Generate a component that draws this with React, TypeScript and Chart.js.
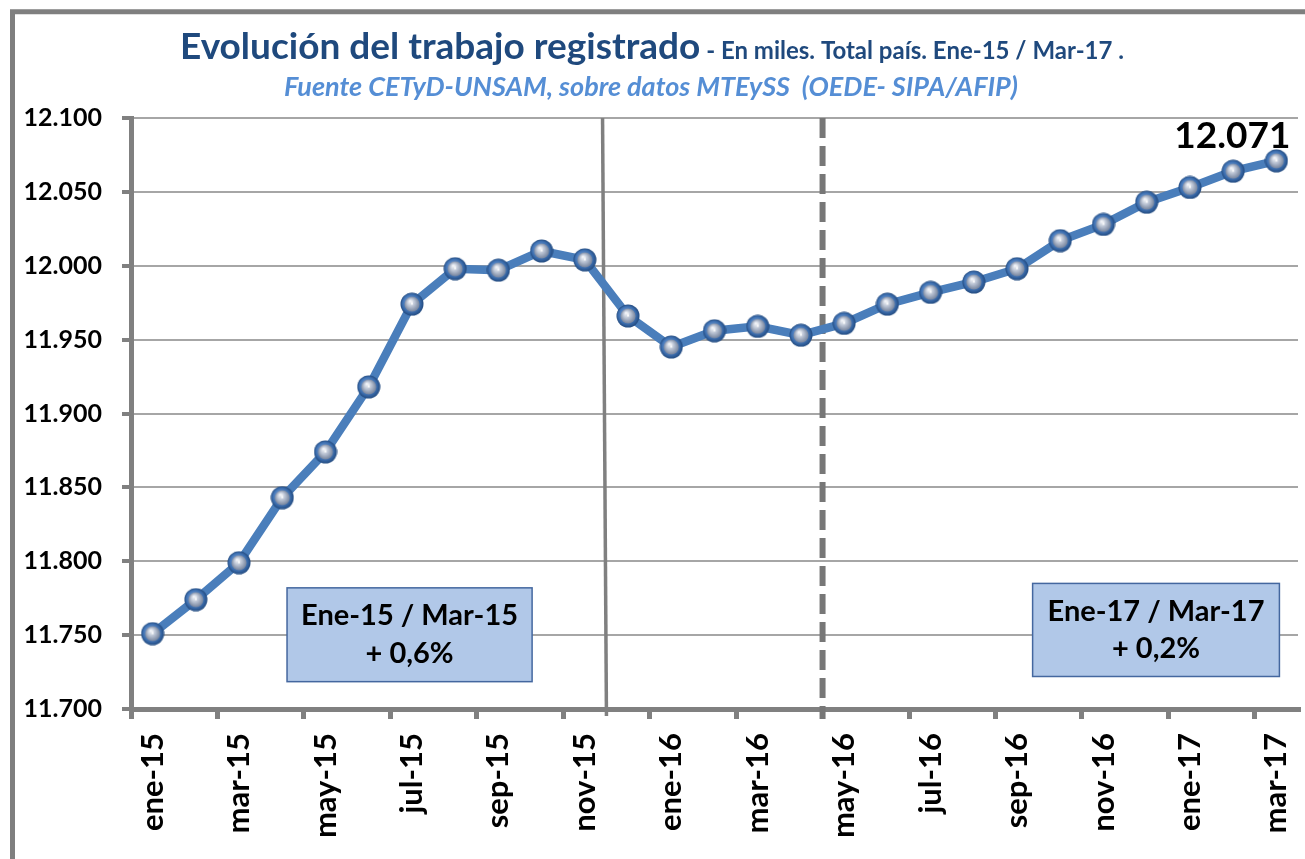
import React, { useEffect, useRef } from 'react';
import { Chart, registerables } from 'chart.js';

Chart.register(...registerables);

// ---- data ----
const months = [
  'ene-15', 'feb-15', 'mar-15', 'abr-15', 'may-15', 'jun-15', 'jul-15', 'ago-15', 'sep-15',
  'oct-15', 'nov-15', 'dic-15', 'ene-16', 'feb-16', 'mar-16', 'abr-16', 'may-16', 'jun-16',
  'jul-16', 'ago-16', 'sep-16', 'oct-16', 'nov-16', 'dic-16', 'ene-17', 'feb-17', 'mar-17',
];
const trabajoRegistrado = [
  11751, 11774, 11799, 11843, 11874, 11918, 11974, 11998, 11997,
  12010, 12004, 11966, 11945, 11956, 11959, 11953, 11961, 11974,
  11982, 11989, 11998, 12017, 12028, 12043, 12053, 12064, 12071,
];
const yMin = 11700;
const yMax = 12100;
const yStep = 50;

const titleMain = 'Evolución del trabajo registrado';
const titleSecondary = ' - En miles. Total país. Ene-15 / Mar-17 .';
const subtitle = 'Fuente CETyD-UNSAM, sobre datos MTEySS  (OEDE- SIPA/AFIP)';
const lastValueLabel = '12.071';

const boxFrom = [3.11, 20.36];
const boxTo = [8.78, 26.07];
const boxTop = [11782, 11785];
const boxBottom = [11718.5, 11722];
const boxLine1 = ['Ene-15 / Mar-15', 'Ene-17 / Mar-17'];
const boxLine2 = ['+ 0,6%', '+ 0,2%'];

const FONT = 'Lato, "Open Sans", sans-serif';

function fmtThousands(v: number): string {
  return (v / 1000).toFixed(3);
}

function makeMarker(): HTMLCanvasElement {
  const c = document.createElement('canvas');
  c.width = 24;
  c.height = 24;
  const g = c.getContext('2d')!;
  const cx = 12, cy = 12;
  const ring = g.createRadialGradient(cx - 3, cy - 3, 2, cx, cy, 11.5);
  ring.addColorStop(0, '#6C9BD8');
  ring.addColorStop(0.7, '#3D6FB0');
  ring.addColorStop(1, '#234B80');
  g.fillStyle = ring;
  g.beginPath();
  g.arc(cx, cy, 11.5, 0, Math.PI * 2);
  g.fill();
  const inner = g.createRadialGradient(cx - 2, cy - 3, 0.5, cx, cy, 8);
  inner.addColorStop(0, '#F2F4F8');
  inner.addColorStop(0.45, '#BAC3D3');
  inner.addColorStop(1, '#6F7E98');
  g.fillStyle = inner;
  g.beginPath();
  g.arc(cx, cy, 7.6, 0, Math.PI * 2);
  g.fill();
  g.fillStyle = 'rgba(255,255,255,0.85)';
  g.beginPath();
  g.moveTo(cx, cy - 4);
  g.lineTo(cx + 1.2, cy + 0.5);
  g.lineTo(cx - 1.2, cy + 0.5);
  g.closePath();
  g.fill();
  return c;
}

const decorPlugin = {
  id: 'decor',
  beforeDraw(chart: any) {
    const ctx = chart.ctx;
    ctx.save();
    ctx.fillStyle = '#FFFFFF';
    ctx.fillRect(0, 0, chart.width, chart.height);
    ctx.strokeStyle = '#7F7F7F';
    ctx.lineWidth = 5;
    ctx.beginPath();
    ctx.moveTo(12.5, chart.height + 5);
    ctx.lineTo(12.5, 11.8);
    ctx.lineTo(chart.width + 5, 11.8);
    ctx.stroke();

    ctx.textBaseline = 'alphabetic';
    ctx.textAlign = 'left';
    const f1 = `bold 37px ${FONT}`;
    const f2 = `bold 24px ${FONT}`;
    ctx.font = f1;
    const w1 = ctx.measureText(titleMain).width;
    ctx.font = f2;
    const w2 = ctx.measureText(titleSecondary).width;
    const startX = 652 - (w1 + w2) / 2;
    ctx.fillStyle = '#1F497D';
    ctx.font = f1;
    ctx.fillText(titleMain, startX, 59);
    ctx.font = f2;
    ctx.fillText(titleSecondary, startX + w1, 59);

    ctx.font = `italic bold 27px ${FONT}`;
    ctx.fillStyle = '#558ED5';
    ctx.textAlign = 'center';
    ctx.fillText(subtitle, 651, 96);
    ctx.restore();
  },
  beforeDatasetsDraw(chart: any) {
    const ctx = chart.ctx;
    const xs = chart.scales.x;
    const ys = chart.scales.y;
    const area = chart.chartArea;
    ctx.save();
    ctx.strokeStyle = '#808080';
    ctx.lineWidth = 3.5;
    ctx.beginPath();
    ctx.moveTo(xs.getPixelForValue(10.41), area.top);
    ctx.lineTo(xs.getPixelForValue(10.5), area.bottom + 7);
    ctx.stroke();
    ctx.strokeStyle = '#777777';
    ctx.lineWidth = 6;
    ctx.setLineDash([20, 8]);
    ctx.beginPath();
    const dx = xs.getPixelForValue(15.5);
    ctx.moveTo(dx, area.top);
    ctx.lineTo(dx, area.bottom + 10);
    ctx.stroke();
    ctx.setLineDash([]);

    for (let i = 0; i < boxFrom.length; i++) {
      const l = xs.getPixelForValue(boxFrom[i]);
      const r = xs.getPixelForValue(boxTo[i]);
      const t = ys.getPixelForValue(boxTop[i]);
      const b = ys.getPixelForValue(boxBottom[i]);
      ctx.fillStyle = '#B1C8E8';
      ctx.fillRect(l, t, r - l, b - t);
      ctx.strokeStyle = '#44679F';
      ctx.lineWidth = 1.5;
      ctx.strokeRect(l, t, r - l, b - t);
      ctx.fillStyle = '#000000';
      ctx.font = `bold 29px ${FONT}`;
      ctx.textAlign = 'center';
      ctx.textBaseline = 'middle';
      const cx = (l + r) / 2;
      ctx.fillText(boxLine1[i], cx, t + (b - t) * 0.3);
      ctx.fillText(boxLine2[i], cx, t + (b - t) * 0.7);
    }
    ctx.restore();
  },
  afterDatasetsDraw(chart: any) {
    const ctx = chart.ctx;
    const meta = chart.getDatasetMeta(0);
    const last = meta.data[meta.data.length - 1];
    ctx.save();
    ctx.fillStyle = '#000000';
    ctx.font = `bold 37px ${FONT}`;
    ctx.textAlign = 'right';
    ctx.textBaseline = 'alphabetic';
    ctx.fillText(lastValueLabel, last.x + 14, last.y - 13);
    ctx.restore();
  },
};

export default function App() {
  const ref = useRef<HTMLCanvasElement | null>(null);
  useEffect(() => {
    if (!ref.current) return;
    const marker = makeMarker();
    const chart = new Chart(ref.current, {
      type: 'line',
      data: {
        labels: months,
        datasets: [
          {
            data: trabajoRegistrado,
            borderColor: '#4A7EBB',
            borderWidth: 8.5,
            tension: 0,
            pointStyle: marker as any,
            pointRadius: 11,
            pointHoverRadius: 11,
            fill: false,
            clip: false as any,
          },
        ],
      },
      options: {
        responsive: false,
        animation: false,
        events: [],
        layout: { autoPadding: false, padding: { top: 118, right: 7, left: 0, bottom: 0 } },
        plugins: {
          legend: { display: false },
          tooltip: { enabled: false },
          title: { display: false },
        },
        scales: {
          x: {
            type: 'category',
            offset: true,
            grid: {
              offset: true,
              drawOnChartArea: false,
              drawTicks: true,
              tickLength: 10,
              lineWidth: 5,
              color: (c: any) => (c.index % 2 === 0 ? '#808080' : 'rgba(0,0,0,0)'),
              tickColor: (c: any) => (c.index % 2 === 0 ? '#808080' : 'rgba(0,0,0,0)'),
              tickWidth: 5,
            },
            border: { display: true, color: '#808080', width: 5 },
            ticks: {
              autoSkip: false,
              maxRotation: 90,
              minRotation: 90,
              padding: 14,
              color: '#000000',
              font: { family: FONT, weight: 'bold', size: 31 },
              callback: (_v: any, i: number) => (i % 2 === 0 ? months[i] : ''),
            },
            afterFit: (s: any) => {
              s.height = 150;
              s.paddingLeft = 0;
              s.paddingRight = 0;
            },
          },
          y: {
            min: yMin,
            max: yMax,
            grid: {
              color: '#A6A6A6',
              lineWidth: 2,
              tickLength: 9,
              tickColor: '#808080',
              tickWidth: 4,
            },
            border: { display: true, color: '#808080', width: 5 },
            ticks: {
              stepSize: yStep,
              padding: 20,
              color: '#000000',
              font: { family: FONT, weight: 'bold', size: 25 },
              callback: (v: any) => fmtThousands(Number(v)),
            },
            afterFit: (s: any) => {
              s.width = 131;
              s.paddingTop = 0;
              s.paddingBottom = 0;
            },
          },
        },
      },
      plugins: [decorPlugin],
    });
    return () => chart.destroy();
  }, []);
  return (
    <div style={{ position: 'fixed', left: 0, top: 0, width: 1305, height: 859, background: '#fff' }}>
      <canvas ref={ref} width={1305} height={859} style={{ display: 'block', width: 1305, height: 859 }} />
    </div>
  );
}
